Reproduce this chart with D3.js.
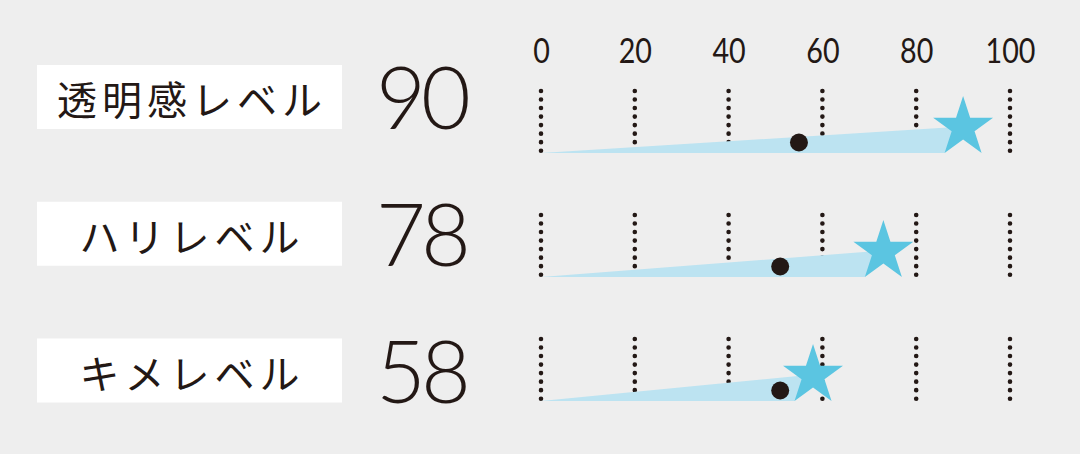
<!DOCTYPE html>
<html><head><meta charset="utf-8">
<script src="https://cdn.jsdelivr.net/npm/d3@7/dist/d3.min.js"></script>
<style>
html,body{margin:0;padding:0;background:#eeeeee;}
svg{display:block;}
</style></head>
<body>
<svg id="chart" width="1080" height="454"></svg>
<script>
const categories = ["透明感レベル", "ハリレベル", "キメレベル"];
const scores = [90, 78, 58];
const starValues = [90, 73, 58];
const dotValues = [55, 51, 51];
const tickValues = [0, 20, 40, 60, 80, 100];

const svg = d3.select("#chart");
const ink = "#231815";

const x = d3.scaleLinear().domain([0, 100]).range([541, 1010]);
const labelY = d3.scalePoint().domain(categories).range([97, 370.5]);
const baseY = d3.scalePoint().domain(categories).range([153, 401]);

// top axis
const axis = svg.append("g").attr("transform", "translate(0,63)")
  .call(d3.axisTop(x).tickValues(tickValues).tickSize(0).tickPadding(0).tickFormat(d3.format("d")));
axis.select(".domain").remove();
axis.selectAll("text")
  .attr("fill", ink).attr("y", 0).attr("dy", 0)
  .style("font-family", "Lato, 'Noto Sans', sans-serif")
  .style("font-weight", 400).style("font-size", "35px")
  .attr("transform", "scale(0.82,1)");

const rows = categories.map((c, i) => ({cat: c, score: scores[i], star: starValues[i], dot: dotValues[i]}));

// label boxes
svg.selectAll("rect.lab").data(rows).enter().append("rect")
  .attr("x", 37).attr("width", 305)
  .attr("y", d => labelY(d.cat) - 32).attr("height", 64)
  .attr("fill", "#ffffff");

svg.selectAll("text.lab").data(rows).enter().append("text")
  .attr("x", 37 + 305 / 2 + 2.5).attr("y", d => labelY(d.cat) + 1)
  .attr("text-anchor", "middle").attr("dominant-baseline", "central")
  .style("font-family", "'Noto Sans CJK JP', sans-serif")
  .style("font-size", "40px").style("font-weight", 400).style("letter-spacing", "5px")
  .attr("fill", ink).text(d => d.cat);

// scores
svg.selectAll("text.score").data(rows).enter().append("text")
  .attr("x", 376).attr("y", d => labelY(d.cat) + 32)
  .style("font-family", "Lato, 'Noto Sans', sans-serif")
  .style("font-weight", 300).style("font-size", "86px").style("letter-spacing", "-5px")
  .attr("fill", ink).text(d => d.score);

// grid dotted lines
rows.forEach(r => {
  const b = baseY(r.cat);
  svg.append("g").selectAll("line").data(tickValues).enter().append("line")
    .attr("x1", d => x(d)).attr("x2", d => x(d))
    .attr("y1", b - 62).attr("y2", b - 1)
    .attr("stroke", ink).attr("stroke-width", 4.6)
    .attr("stroke-linecap", "round")
    .attr("stroke-dasharray", "0 " + (59.7 / 7));
});

// wedges
const starR = 31.5;
const starCy = b => b - 25.5;
svg.selectAll("path.wedge").data(rows).enter().append("path")
  .attr("fill", "#bce3f1")
  .attr("d", d => {
    const b = baseY(d.cat);
    const xs = x(d.star);
    const dx = starR * Math.sin(Math.PI / 5);
    return d3.line()([[x(0), b], [xs - dx, b], [xs, starCy(b) - 1]]) + "Z";
  });

// dots
svg.selectAll("circle.dot").data(rows).enter().append("circle")
  .attr("cx", d => x(d.dot)).attr("cy", d => baseY(d.cat) - 10.5)
  .attr("r", 9).attr("fill", ink);

// stars
const starSym = d3.symbol().type(d3.symbolStar).size(starR * starR / 0.8908130915292852);
svg.selectAll("path.star").data(rows).enter().append("path")
  .attr("transform", d => `translate(${x(d.star)},${starCy(baseY(d.cat))})`)
  .attr("d", starSym).attr("fill", "#5bc5e1");
</script>
</body></html>
